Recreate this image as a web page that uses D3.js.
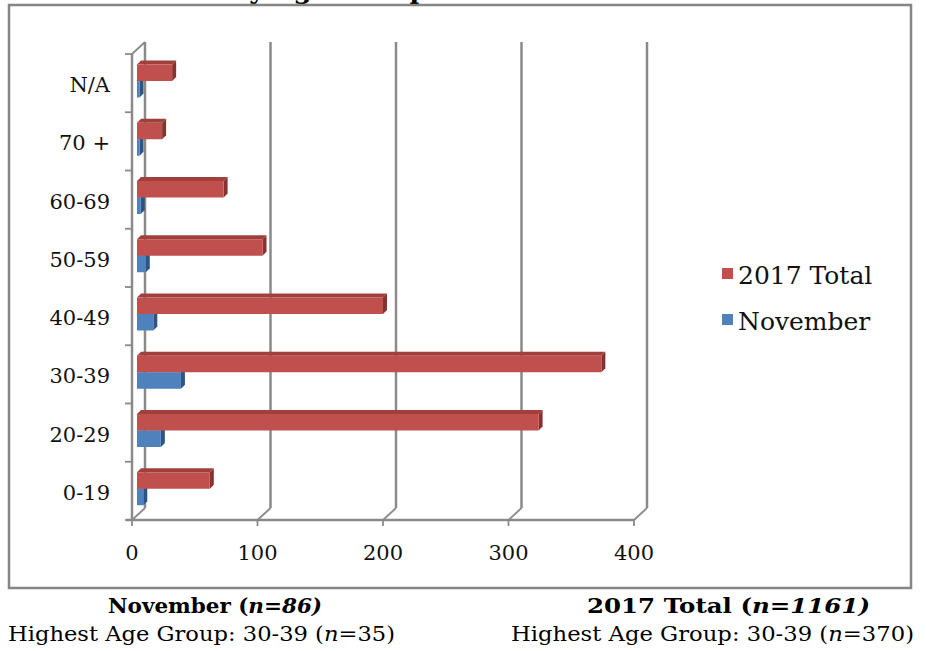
<!DOCTYPE html>
<html>
<head>
<meta charset="utf-8">
<script src="https://cdn.jsdelivr.net/npm/d3@7"></script>
<style>
  body { margin: 0; background: #fff; }
  svg { display: block; }
</style>
</head>
<body>
<script>
// data, bottom category first
var categories = ["0-19", "20-29", "30-39", "40-49", "50-59", "60-69", "70 +", "N/A"];
var total2017 = [58, 320, 370, 196, 100, 69, 20, 28];
var november = [5, 19, 35, 13, 7, 3, 2, 2];
var xTicks = [0, 100, 200, 300, 400];
var seriesNames = ["2017 Total", "November"];

var W = 926, H = 651;
var serif = "'DejaVu Serif', serif";

var svg = d3.select("body").append("svg")
    .attr("width", W)
    .attr("height", H)
    .style("background", "#fff");

// scales (front plane of the 3d box)
var x = d3.scaleLinear().domain([0, 400]).range([132, 634]);
var y = d3.scaleBand().domain(categories.slice().reverse()).range([54, 520]);
var depth = {dx: 13, dy: -12};   // back wall offset
var barShift = 5;                 // bars sit a bit behind the front
var side = 4;                     // bar depth
var barH = 16.5;

// partial title cut at the top edge
svg.append("text")
    .attr("x", 231).attr("y", -1)
    .style("font-family", serif)
    .style("font-weight", "bold")
    .style("font-size", "26px")
    .text("by Age Group");

// chart border
svg.append("rect")
    .attr("x", 9).attr("y", 5)
    .attr("width", 902).attr("height", 583)
    .attr("fill", "none")
    .attr("stroke", "#858585")
    .attr("stroke-width", 2.5);

var gridColor = "#8a8a8a";
var grid = svg.append("g");

// back wall gridlines
grid.selectAll(".vgrid").data(xTicks).enter().append("line")
    .attr("x1", d => x(d) + depth.dx).attr("x2", d => x(d) + depth.dx)
    .attr("y1", 54 + depth.dy).attr("y2", 520 + depth.dy)
    .attr("stroke", gridColor).attr("stroke-width", 2.5);

// floor diagonals
grid.selectAll(".diag").data(xTicks).enter().append("line")
    .attr("x1", d => x(d)).attr("y1", 520)
    .attr("x2", d => x(d) + depth.dx).attr("y2", 520 + depth.dy)
    .attr("stroke", gridColor).attr("stroke-width", 1.8);

// left wall front edge + top diagonal
grid.append("line")
    .attr("x1", x(0)).attr("x2", x(0))
    .attr("y1", 54).attr("y2", 520)
    .attr("stroke", gridColor).attr("stroke-width", 2.5);
grid.append("line")
    .attr("x1", x(0)).attr("y1", 54)
    .attr("x2", x(0) + depth.dx).attr("y2", 54 + depth.dy)
    .attr("stroke", gridColor).attr("stroke-width", 1.8);

// floor front edge + ticks
grid.append("line")
    .attr("x1", x(0) - 6).attr("x2", x(400))
    .attr("y1", 520).attr("y2", 520)
    .attr("stroke", gridColor).attr("stroke-width", 2.5);
grid.selectAll(".xt").data(xTicks).enter().append("line")
    .attr("x1", d => x(d)).attr("x2", d => x(d))
    .attr("y1", 520).attr("y2", 526)
    .attr("stroke", gridColor).attr("stroke-width", 1.8);

// category ticks on the left
var bounds = y.domain().map(d => y(d)).concat([520]);
grid.selectAll(".yt").data(bounds).enter().append("line")
    .attr("x1", x(0) - 7).attr("x2", x(0))
    .attr("y1", d => d).attr("y2", d => d)
    .attr("stroke", gridColor).attr("stroke-width", 1.8);

// 3d bar helper
function drawBar(g, v, y0, cFront, cTop, cSide) {
    var x0 = x(0) + barShift;
    var x1 = x(v) + barShift;
    g.append("polygon")
        .attr("points", [[x0, y0], [x1, y0], [x1 + side, y0 - side], [x0 + side, y0 - side]].join(" "))
        .attr("fill", cTop);
    g.append("polygon")
        .attr("points", [[x1, y0], [x1 + side, y0 - side], [x1 + side, y0 + barH - side], [x1, y0 + barH]].join(" "))
        .attr("fill", cSide);
    g.append("rect")
        .attr("x", x0).attr("y", y0)
        .attr("width", Math.max(0, x1 - x0)).attr("height", barH)
        .attr("fill", cFront);
}

var bars = svg.append("g");
categories.forEach(function(c, i) {
    var top = y(c);
    drawBar(bars, november[i], top + 10.5 + barH, "#4F81BD", "#3D6BA3", "#2C5586");
    drawBar(bars, total2017[i], top + 10.5, "#C0504D", "#A13F3C", "#883230");
});

// y labels
svg.selectAll(".ylab").data(categories).enter().append("text")
    .attr("x", 110)
    .attr("y", d => y(d) + y.bandwidth() / 2 + 9)
    .attr("text-anchor", "end")
    .style("font-family", serif)
    .style("font-size", "21px")
    .style("fill", "#111")
    .text(d => d);

// x labels
svg.selectAll(".xlab").data(xTicks).enter().append("text")
    .attr("x", d => x(d))
    .attr("y", 560)
    .attr("text-anchor", "middle")
    .style("font-family", serif)
    .style("font-size", "21px")
    .style("fill", "#111")
    .text(d => d);

// legend
var legColors = ["#C0504D", "#4F81BD"];
var leg = svg.append("g");
seriesNames.forEach(function(n, i) {
    leg.append("rect")
        .attr("x", 722).attr("y", 268 + i * 46)
        .attr("width", 11).attr("height", 11)
        .attr("fill", legColors[i]);
    leg.append("text")
        .attr("x", 738).attr("y", 284 + i * 46)
        .style("font-family", serif)
        .style("font-size", "25px")
        .style("fill", "#111")
        .text(n);
});

// footer notes
function note(xp, yp, len, bold, parts) {
    var t = svg.append("text")
        .attr("x", xp).attr("y", yp)
        .attr("textLength", len)
        .attr("lengthAdjust", "spacingAndGlyphs")
        .style("font-family", serif)
        .style("font-size", "21px")
        .style("font-weight", bold ? "bold" : "normal")
        .style("fill", "#000");
    parts.forEach(function(p) {
        t.append("tspan")
            .style("font-style", p[1] ? "italic" : "normal")
            .text(p[0]);
    });
}
note(108, 613, 214, true, [["November (", false], ["n=86)", true]]);
note(8, 641, 387, false, [["Highest Age Group: 30-39 (", false], ["n", true], ["=35)", false]]);
note(587, 613, 283, true, [["2017 Total (", false], ["n=1161)", true]]);
note(511, 641, 403, false, [["Highest Age Group: 30-39 (", false], ["n", true], ["=370)", false]]);
</script>
</body>
</html>
